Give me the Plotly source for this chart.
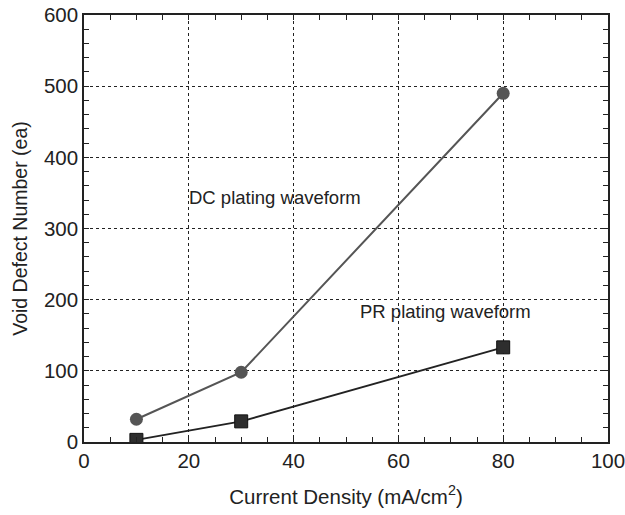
import plotly.graph_objects as go

current_density = [10, 30, 80]
dc_voids = [32, 98, 490]
pr_voids = [3, 29, 133]

x_ticks = [0, 20, 40, 60, 80, 100]
y_ticks = [0, 100, 200, 300, 400, 500, 600]

FONT = "Liberation Sans, Arial"
TXT = "#222222"

fig = go.Figure()
fig.add_trace(go.Scatter(x=current_density, y=dc_voids, mode="lines+markers",
                         line=dict(color="#555555", width=2),
                         marker=dict(symbol="circle", size=13, color="#555555"),
                         showlegend=False))
fig.add_trace(go.Scatter(x=current_density, y=pr_voids, mode="lines+markers",
                         line=dict(color="#222222", width=2),
                         marker=dict(symbol="square", size=13, color="#2e2e2e",
                                     line=dict(color="#111111", width=1)),
                         showlegend=False))

fig.add_annotation(x=19.7, y=344, text="DC plating waveform", showarrow=False,
                   xanchor="left", yanchor="middle",
                   font=dict(family=FONT, size=18.5, color=TXT))
fig.add_annotation(x=52.3, y=183, text="PR plating waveform", showarrow=False,
                   xanchor="left", yanchor="middle",
                   font=dict(family=FONT, size=18.5, color=TXT))

axis_common = dict(
    showline=True, linecolor="#222222", linewidth=1.5, mirror="ticks",
    ticks="inside", ticklen=5, tickcolor="#222222",
    showgrid=True, gridcolor="#222222", gridwidth=1, griddash="dot",
    zeroline=False, automargin=False, ticklabeloverflow="allow",
    tickfont=dict(family=FONT, size=20.5, color=TXT),
)

fig.update_xaxes(range=[0, 100], tickvals=x_ticks,
                 minor=dict(dtick=5, ticks="inside", ticklen=5, tickcolor="#222222", showgrid=False),
                 title=dict(text="Current Density (mA/cm<sup>2</sup>)",
                            font=dict(family=FONT, size=20.5, color=TXT),
                            standoff=18),
                 **axis_common)
fig.update_yaxes(range=[0, 600], tickvals=y_ticks,
                 minor=dict(dtick=20, ticks="inside", ticklen=5, tickcolor="#222222", showgrid=False),
                 title=dict(text="Void Defect Number (ea)",
                            font=dict(family=FONT, size=19.5, color=TXT),
                            standoff=11),
                 **axis_common)

fig.update_layout(width=625, height=515, margin=dict(l=84, r=17, t=15, b=73),
                  plot_bgcolor="white", paper_bgcolor="white")

fig.write_html("out.html")
